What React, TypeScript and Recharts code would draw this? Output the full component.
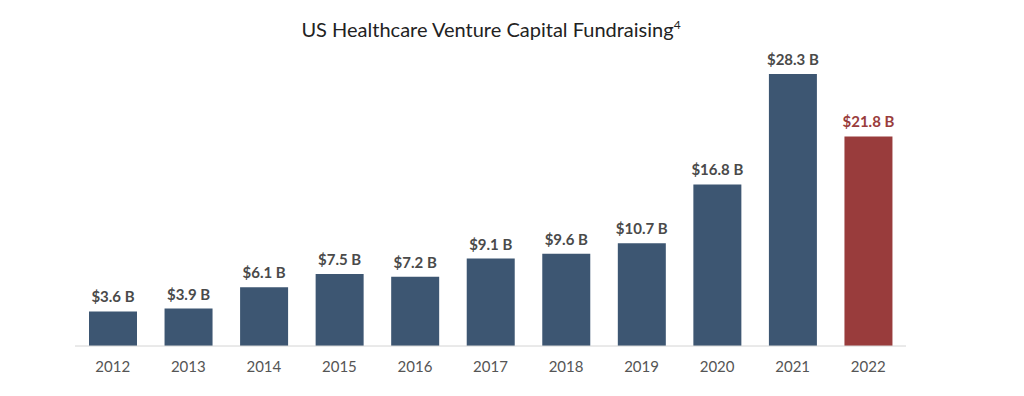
import { BarChart, Bar, XAxis, YAxis, Cell, LabelList } from "recharts";

const YEARS = ["2012", "2013", "2014", "2015", "2016", "2017", "2018", "2019", "2020", "2021", "2022"];
const FUNDRAISING = [3.6, 3.9, 6.1, 7.5, 7.2, 9.1, 9.6, 10.7, 16.8, 28.3, 21.8];
const HIGHLIGHT_YEAR = "2022";

const BLUE = "#3d5672";
const RED = "#993c3c";

const data = YEARS.map((year, i) => ({ year, value: FUNDRAISING[i] }));

const formatBillions = (v: number) => `$${v.toFixed(1)} B`;

const renderLabel = (props: any) => {
  const { x, y, width, value, index } = props;
  const isHighlight = YEARS[index] === HIGHLIGHT_YEAR;
  return (
    <text
      x={x + width / 2}
      y={y - 9}
      textAnchor="middle"
      fontFamily="Lato"
      fontWeight={700}
      fontSize={15}
      fill={isHighlight ? RED : "#4a4a4a"}
    >
      {formatBillions(value)}
    </text>
  );
};

export default function App() {
  return (
    <div style={{ position: "absolute", left: 0, top: 0, width: 1024, height: 396, background: "#fff", fontFamily: "Lato" }}>
      <div
        style={{
          position: "absolute",
          top: 17,
          left: 0,
          width: 982,
          textAlign: "center",
          fontSize: 20,
          color: "#222",
        }}
      >
        US Healthcare Venture Capital Fundraising<sup style={{ fontSize: 12, verticalAlign: "super", lineHeight: 0 }}>4</sup>
      </div>
      <BarChart
        width={1024}
        height={396}
        data={data}
        margin={{ top: 57.6, right: 118, left: 75, bottom: 20 }}
      >
        <XAxis
          dataKey="year"
          axisLine={{ stroke: "#d4d4d4" }}
          tickLine={false}
          tickMargin={9}
          height={30}
          tick={{ fontSize: 15, fill: "#555", fontFamily: "Lato" }}
        />
        <YAxis hide domain={[0, 30]} width={0} />
        <Bar dataKey="value" barSize={48} isAnimationActive={false}>
          {data.map((d) => (
            <Cell key={d.year} fill={d.year === HIGHLIGHT_YEAR ? RED : BLUE} />
          ))}
          <LabelList dataKey="value" content={renderLabel} />
        </Bar>
      </BarChart>
    </div>
  );
}
